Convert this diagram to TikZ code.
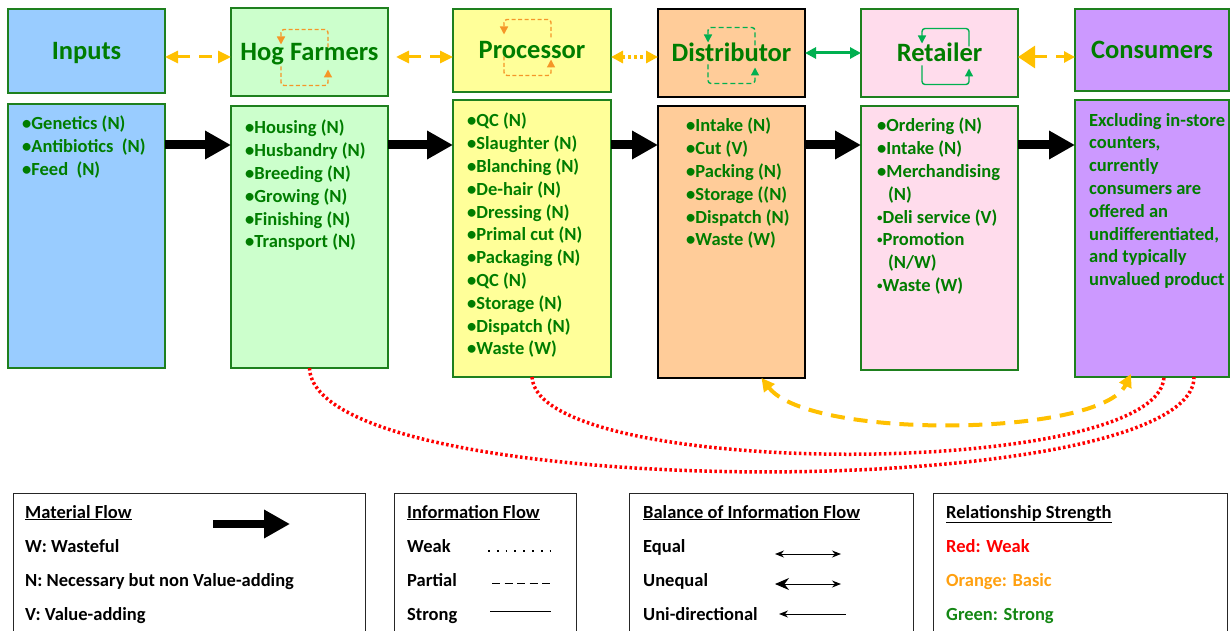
\documentclass[tikz,border=0pt]{standalone}
\usepackage{fontspec}
\setmainfont{Carlito}
\usetikzlibrary{arrows.meta,positioning,calc}
\definecolor{tgreen}{RGB}{0,125,0}
\definecolor{bgreen}{RGB}{30,128,30}
\definecolor{inblue}{RGB}{153,204,255}
\definecolor{hoggreen}{RGB}{204,255,204}
\definecolor{procyel}{RGB}{255,255,153}
\definecolor{distor}{RGB}{255,204,153}
\definecolor{retpink}{RGB}{255,220,236}
\definecolor{conspur}{RGB}{204,153,255}
\definecolor{infoor}{RGB}{255,192,0}
\definecolor{loopor}{RGB}{245,150,40}
\definecolor{infogreen}{RGB}{0,176,80}
\definecolor{relor}{RGB}{255,160,16}
\definecolor{relgreen}{RGB}{20,135,20}
\tikzstyle{stage}=[draw=bgreen, line width=2pt, inner sep=0pt, outer sep=0pt, text=tgreen]
\tikzstyle{head}=[stage, minimum width=157pt, text height=17pt, text depth=0pt, font=\fontsize{26.5}{30}\selectfont\bfseries]
\tikzstyle{column}=[stage, anchor=north west, minimum width=157pt]
\tikzstyle{steps}=[anchor=north west, inner sep=0pt, align=left, text=tgreen, font=\fontsize{18.5}{22.8}\selectfont\bfseries]
\tikzstyle{material}=[line width=9pt, -{Triangle[length=26pt,width=27pt]}]
\tikzstyle{partial}=[infoor, line width=3pt, dash pattern=on 13pt off 9pt, {Triangle[length=13pt,width=12pt]}-{Triangle[length=13pt,width=12pt]}]
\tikzstyle{weak}=[infoor, line width=3.5pt, dash pattern=on 3pt off 3pt, {Triangle[length=12pt,width=12pt]}-{Triangle[length=12pt,width=12pt]}]
\tikzstyle{strong}=[infogreen, line width=3pt, {Triangle[length=11pt,width=11pt]}-{Triangle[length=11pt,width=11pt]}]
\tikzstyle{redlink}=[red, line width=3.5pt, dash pattern=on 2.5pt off 2.5pt]
\tikzstyle{basiclink}=[infoor, line width=4pt, dash pattern=on 14pt off 9pt, {Triangle[length=13pt,width=13pt]}-{Triangle[length=13pt,width=13pt]}]
\tikzstyle{loopdash}=[loopor, line width=1.4pt, dash pattern=on 4pt off 2.5pt, rounded corners=3pt, -{Triangle[length=8pt,width=8pt]}]
\tikzstyle{loopgreen}=[infogreen, line width=1.4pt, rounded corners=3pt, -{Triangle[length=8pt,width=8pt]}]
\tikzstyle{legbox}=[draw=black!85, line width=1pt, anchor=north west, inner sep=0pt, minimum height=150pt]
\tikzstyle{legtext}=[anchor=west, inner sep=0pt, text height=12pt, text depth=0pt, font=\fontsize{18.5}{22}\selectfont\bfseries]
\newcommand{\cycleicon}[2]{
\draw[#1] ($(#2)+(23.5,-10)$) -- ++(0,-18) -- ++(-47,0) -- ++(0,15);
\draw[#1] ($(#2)+(-23.5,9)$) -- ++(0,19) -- ++(47,0) -- ++(0,-16);
}
\newcommand{\smallbullet}{\raisebox{2pt}{\fontsize{11}{11}\selectfont\textbullet}}

\begin{document}
\begin{tikzpicture}[x=1pt,y=-1pt]
\useasboundingbox (0,0) rectangle (1230,631);
\coordinate (info) at (0,57);
\coordinate (infohi) at (0,53);
\coordinate (flow) at (0,145);

% chain stages
\node[head, fill=inblue, minimum height=84pt] (inputs) at (86.5,51) {Inputs};
\node[head, fill=hoggreen, minimum height=88pt] (hog) at (309.5,52.5) {Hog Farmers};
\node[head, fill=procyel, minimum width=158pt, minimum height=83pt] (proc) at (532,50.5) {Processor};
\node[head, draw=black, line width=2.5pt, fill=distor, minimum width=147pt, minimum height=88pt] (dist) at (731.5,53) {Distributor};
\node[head, fill=retpink, minimum height=88pt] (ret) at (939.5,53) {Retailer};
\node[head, fill=conspur, minimum width=154pt, minimum height=82pt] (cons) at (1152,50) {Consumers};

\coordinate (hogcyc) at ($(hog)+(-5,5)$);
\coordinate (proccyc) at ($(proc)+(-4.5,-3)$);
\coordinate (distcyc) at ($(dist)+(0,2.5)$);
\coordinate (retcyc) at ($(ret)+(6,3.5)$);
\cycleicon{loopdash}{hogcyc}
\cycleicon{loopdash}{proccyc}
\cycleicon{loopgreen, dash pattern=on 5pt off 3pt}{distcyc}
\cycleicon{loopgreen}{retcyc}

% activities
\node[column, fill=inblue, minimum height=264pt] (inputsL) at (8,104) {};
\node[column, fill=hoggreen, minimum height=262pt] (hogL) at (231,106) {};
\node[column, fill=procyel, minimum width=158pt, minimum height=277pt] (procL) at (453,100) {};
\node[column, draw=black, line width=2.5pt, fill=distor, minimum width=147pt, minimum height=272pt] (distL) at (658,106) {};
\node[column, fill=retpink, minimum height=264pt] (retL) at (861,106) {};
\node[column, fill=conspur, minimum width=154pt, minimum height=277pt] (consL) at (1075,100) {};

\node[steps, below right=12pt and 14pt of inputsL.north west] (inputsT) {\textbullet Genetics (N)\\ \textbullet Antibiotics\ \ (N)\\ \textbullet Feed\ \ (N)};
\node[steps, below right=14pt and 14pt of hogL.north west] (hogT) {\textbullet Housing (N)\\ \textbullet Husbandry (N)\\ \textbullet Breeding (N)\\ \textbullet Growing (N)\\ \textbullet Finishing (N)\\ \textbullet Transport (N)};
\node[steps, below right=13pt and 14pt of procL.north west] (procT) {\textbullet QC (N)\\ \textbullet Slaughter (N)\\ \textbullet Blanching (N)\\ \textbullet De-hair (N)\\ \textbullet Dressing (N)\\ \textbullet Primal cut (N)\\ \textbullet Packaging (N)\\ \textbullet QC (N)\\ \textbullet Storage (N)\\ \textbullet Dispatch (N)\\ \textbullet Waste (W)};
\node[steps, below right=12pt and 28pt of distL.north west] (distT) {\textbullet Intake (N)\\ \textbullet Cut (V)\\ \textbullet Packing (N)\\ \textbullet Storage ((N)\\ \textbullet Dispatch (N)\\ \textbullet Waste (W)};
\node[steps, below right=12pt and 16pt of retL.north west] (retT) {\textbullet Ordering (N)\\ \textbullet Intake (N)\\ \textbullet Merchandising\\ \hspace*{11pt}(N)\\ \smallbullet Deli service (V)\\ \smallbullet Promotion\\ \hspace*{11pt}(N/W)\\ \smallbullet Waste (W)};
\node[steps, below right=13pt and 14pt of consL.north west] (consT) {Excluding in-store\\ counters,\\ currently\\ consumers are\\ offered an\\ undifferentiated,\\ and typically\\ unvalued product};

% material flow
\foreach \a/\b in {inputsL/hogL,hogL/procL,procL/distL,distL/retL,retL/consL}
  \draw[material] (\a.east |- flow) -- (\b.west |- flow);

% information flow
\draw[partial] (inputs.east |- info) -- (hog.west |- info);
\draw[partial, shorten <=8pt] (hog.east |- info) -- (proc.west |- info);
\draw[weak] (proc.east |- info) -- (dist.west |- info);
\draw[strong] (dist.east |- infohi) -- (ret.west |- infohi);
\draw[partial, {Triangle[length=17pt,width=22pt]}-{Triangle[length=11pt,width=11pt]}] (ret.east |- info) -- (cons.west |- info);

% relationships to consumers
\coordinate (consA) at ($(consL.south)+(42,0)$);
\coordinate (consB) at ($(consL.south)+(12,0)$);
\coordinate (consC) at ($(consL.south)+(-21,-3)$);
\coordinate (distC) at ($(distL.south)+(30,0)$);
\draw[redlink] (hogL.south) .. controls +(5,137) and +(0,128) .. (consA);
\draw[redlink] (procL.south) .. controls +(5,103) and +(-4,103) .. (consB);
\draw[basiclink] (distC) .. controls +(48,62) and +(-31,63) .. (consC);

% legend
\node[legbox, minimum width=352pt] (matleg) at (13,493) {};
\node[legtext] (matH) at (25,512) {\underline{Material Flow}};
\node[legtext] (matW) at (25,546) {W: Wasteful};
\node[legtext] (matN) at (25,580) {N: Necessary but non Value-adding};
\node[legtext] (matV) at (25,614) {V: Value-adding};
\draw[material, line width=8pt] ($(matleg.north west)+(200,31)$) -- ++(77,0);

\node[legbox, minimum width=182pt] (infoleg) at (394,493) {};
\node[legtext] (infoH) at (407,512) {\underline{Information Flow}};
\node[legtext] (infoW) at (407,546) {Weak};
\node[legtext] (infoP) at (407,580) {Partial};
\node[legtext] (infoS) at (407,614) {Strong};
\draw[line width=1.8pt, dash pattern=on 1.8pt off 7pt] (488,551) -- (551,551);
\draw[line width=0.8pt, dash pattern=on 8pt off 4.5pt] (492,583) -- (551,583);
\draw[line width=0.8pt] (490,611) -- (551,611);

\node[legbox, minimum width=284pt] (balleg) at (629,493) {};
\node[legtext] (balH) at (643,512) {\underline{Balance of Information Flow}};
\node[legtext] (balE) at (643,546) {Equal};
\node[legtext] (balU) at (643,580) {Unequal};
\node[legtext] (balD) at (643,614) {Uni-directional};
\draw[line width=1pt, {Stealth[length=9pt,width=7pt]}-{Stealth[length=9pt,width=7pt]}] (775,554) -- (841,554);
\draw[line width=1pt, {Stealth[length=14pt,width=12pt]}-{Stealth[length=9pt,width=7pt]}] (775,584) -- (841,584);
\draw[line width=1pt, {Stealth[length=9pt,width=7pt]}-] (779,614) -- (846,614);

\node[legbox, minimum width=294pt] (relleg) at (933,493) {};
\node[legtext] (relH) at (946,512) {\underline{Relationship Strength}};
\node[legtext, text=red] (relR) at (946,546) {Red: Weak};
\node[legtext, text=relor] (relO) at (946,580) {Orange: Basic};
\node[legtext, text=relgreen] (relG) at (946,614) {Green: Strong};
\end{tikzpicture}
\end{document}
